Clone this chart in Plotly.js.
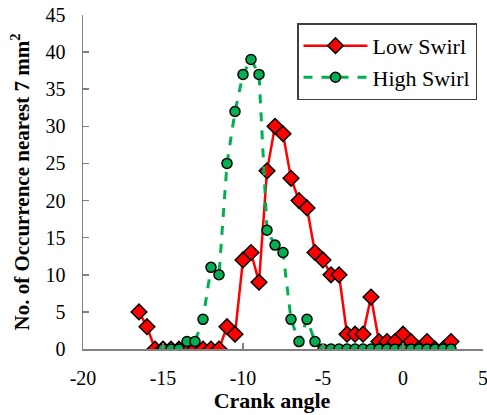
<!DOCTYPE html>
<html>
<head>
<meta charset="utf-8">
<script src="https://cdn.plot.ly/plotly-3.0.1.min.js"></script>
<style>html,body{margin:0;padding:0;background:#fff;}#chart{width:487px;height:415px;}</style>
</head>
<body>
<div id="chart"></div>
<script>
// Crank angle positions
const lowSwirlAngle = [-16.5,-16,-15.5,-15,-14.5,-14,-13.5,-13,-12.5,-12,-11.5,-11,-10.5,-10,-9.5,-9,-8.5,-8,-7.5,-7,-6.5,-6,-5.5,-5,-4.5,-4,-3.5,-3,-2.5,-2,-1.5,-1,-0.5,0,0.5,1,1.5,2,2.5,3];
const lowSwirlCount = [5,3,0,0,0,0,0,0,0,0,0,3,2,12,13,9,24,30,29,23,20,19,13,12,10,10,2,2,2,7,1,1,1,2,1,0,1,0,0,1];
const highSwirlAngle = [-15,-14.5,-14,-13.5,-13,-12.5,-12,-11.5,-11,-10.5,-10,-9.5,-9,-8.5,-8,-7.5,-7,-6.5,-6,-5.5,-5,-4.5,-4,-3.5,-3,-2.5,-2,-1.5,-1,-0.5,0,0.5,1,1.5,2,2.5,3];
const highSwirlCount = [0,0,0,1,1,4,11,10,25,32,37,39,37,16,14,13,4,1,4,1,0,0,0,0,0,0,0,0,0,0,0,0,0,0,0,0,0];
const xTickVals = [-20,-15,-10,-5,0,5];
const xTickText = ["-20","-15","-10","-5","0","5"];
const yTickVals = [0,5,10,15,20,25,30,35,40,45];

const serif = "'Liberation Serif', 'Times New Roman', serif";

const traces = [
  {
    x: lowSwirlAngle, y: lowSwirlCount, name: "Low Swirl", type: "scatter", mode: "lines+markers",
    line: {color: "#ff0000", width: 2.5},
    marker: {symbol: "diamond", size: 12, color: "#ff0000", line: {color: "#000", width: 1.5}}
  },
  {
    x: highSwirlAngle, y: highSwirlCount, name: "High Swirl", type: "scatter", mode: "lines+markers",
    line: {color: "#00b050", width: 3, dash: "dash"},
    marker: {symbol: "circle", size: 10, color: "#00b050", line: {color: "#000", width: 1.5}}
  }
];

const layout = {
  width: 487, height: 415,
  margin: {l: 83, r: 4, t: 15, b: 66},
  paper_bgcolor: "#fff", plot_bgcolor: "#fff",
  font: {family: serif, size: 20, color: "#000"},
  showlegend: true,
  legend: {
    x: 0.535, y: 0.975, xanchor: "left", yanchor: "top",
    bordercolor: "#404040", borderwidth: 1.5, bgcolor: "#fff",
    font: {family: serif, size: 22, color: "#000"},
    itemwidth: 64
  },
  xaxis: {
    range: [-20, 5], tickvals: xTickVals, ticktext: xTickText,
    ticks: "inside", ticklen: 6, tickwidth: 1.5, tickcolor: "#808080",
    showline: true, linecolor: "#808080", linewidth: 1.5,
    showgrid: false, zeroline: false,
    ticklabelstandoff: 10, ticklabeloverflow: "allow",
    tickfont: {family: serif, size: 20, color: "#000"},
    title: {text: "<b>Crank angle</b>&nbsp;&nbsp;&nbsp;&nbsp;", font: {family: serif, size: 22, color: "#000"}, standoff: 4},
    automargin: false
  },
  yaxis: {
    range: [0, 45], tickvals: yTickVals,
    ticks: "inside", ticklen: 6, tickwidth: 1.5, tickcolor: "#808080",
    showline: true, linecolor: "#808080", linewidth: 1.5,
    showgrid: false, zeroline: false,
    ticklabelstandoff: 12,
    tickfont: {family: serif, size: 20, color: "#000"},
    title: {text: "<b>No. of Occurrence nearest 7 mm<sup>2</sup></b>", font: {family: serif, size: 21, color: "#000"}, standoff: 10},
    automargin: false
  }
};

Plotly.newPlot("chart", traces, layout, {staticPlot: true, displayModeBar: false});
</script>
</body>
</html>
